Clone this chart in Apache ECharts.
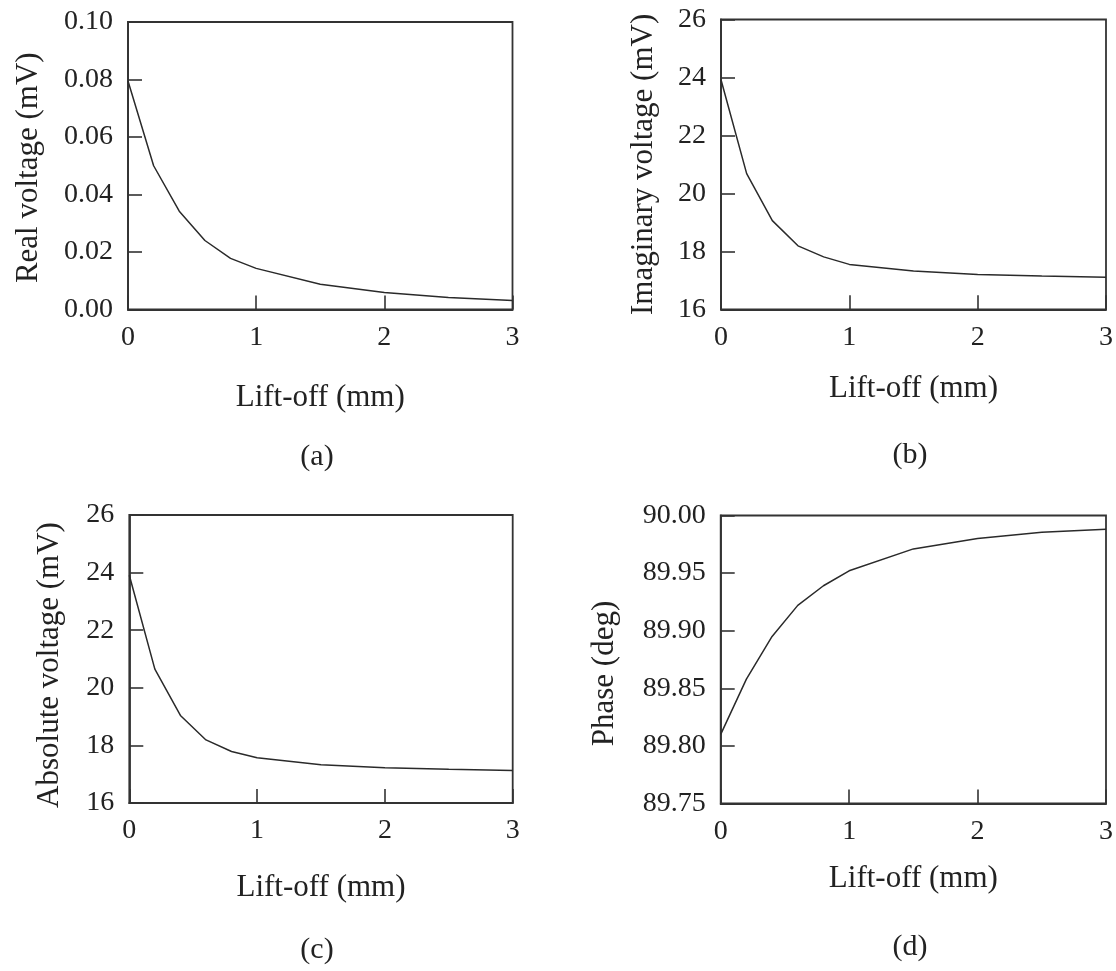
<!DOCTYPE html>
<html>
<head>
<meta charset="utf-8">
<script src="https://cdn.jsdelivr.net/npm/echarts@6/dist/echarts.min.js"></script>
<style>
html,body{margin:0;padding:0;background:#fff;}
#chart{width:1116px;height:971px;}
</style>
</head>
<body>
<div id="chart"></div>
<script>
// ---- data ----
const liftoff = [0, 0.2, 0.4, 0.6, 0.8, 1.0, 1.5, 2.0, 2.5, 3.0];
const realVoltage = [0.0795, 0.0500, 0.0342, 0.0240, 0.0178, 0.0143, 0.0088, 0.0059, 0.0042, 0.0031];
const imaginaryVoltage = [23.92, 20.68, 19.06, 18.19, 17.81, 17.55, 17.32, 17.20, 17.15, 17.11];
const absoluteVoltage = [23.91, 20.65, 19.04, 18.19, 17.79, 17.57, 17.33, 17.22, 17.17, 17.13];
const phaseDeg = [89.810, 89.858, 89.895, 89.922, 89.939, 89.952, 89.971, 89.980, 89.9855, 89.988];

const xTitle = 'Lift-off (mm)';
const yTitles = ['Real voltage (mV)', 'Imaginary voltage (mV)', 'Absolute voltage (mV)', 'Phase (deg)'];
const captions = ['(a)', '(b)', '(c)', '(d)'];
const yRanges = [
  {min: 0, max: 0.1, interval: 0.02, digits: 2},
  {min: 16, max: 26, interval: 2, digits: 0},
  {min: 16, max: 26, interval: 2, digits: 0},
  {min: 89.75, max: 90.0, interval: 0.05, digits: 2}
];
const seriesValues = [realVoltage, imaginaryVoltage, absoluteVoltage, phaseDeg];

// ---- layout / style ----
const FONT = '"Liberation Serif", "Times New Roman", "DejaVu Serif", serif';
const TXT = '#222';
const LINE = '#333';
const grids = [
  {left: 128, top: 22, width: 384.5, height: 287.5},
  {left: 721, top: 19.5, width: 385, height: 289.8},
  {left: 129.3, top: 515, width: 383.4, height: 288},
  {left: 720.7, top: 515.5, width: 385.3, height: 288}
];
const xNameGaps = [73, 64, 69, 60];
const yNameGaps = [84, 62, 64, 100];
const yNamePad = [[0, 4, 0, 0], [0, 0, 0, 0], [0, 12, 0, 0], [0, 28, 0, 0]];
const captionPos = [[317, 457], [910, 455], [317, 950], [910, 947]];

const chart = echarts.init(document.getElementById('chart'), null, {renderer: 'canvas'});

const option = {
  backgroundColor: '#fff',
  animation: false,
  grid: grids.map(g => Object.assign({show: true, borderColor: LINE, borderWidth: 1.8, backgroundColor: 'transparent', containLabel: false}, g)),
  xAxis: grids.map((g, i) => ({
    gridIndex: i, type: 'value', min: 0, max: 3, interval: 1,
    name: xTitle, nameLocation: 'middle', nameGap: xNameGaps[i],
    nameTextStyle: {fontFamily: FONT, fontSize: 31, color: TXT},
    axisLine: {show: true, lineStyle: {color: LINE, width: 1.8}},
    axisTick: {show: true, inside: true, length: 14, lineStyle: {color: LINE, width: 1.6}},
    axisLabel: {fontFamily: FONT, fontSize: 28, color: TXT, margin: 14},
    splitLine: {show: false}
  })),
  yAxis: grids.map((g, i) => ({
    gridIndex: i, type: 'value', min: yRanges[i].min, max: yRanges[i].max, interval: yRanges[i].interval,
    name: yTitles[i], nameLocation: 'middle', nameGap: yNameGaps[i],
    nameTextStyle: {fontFamily: FONT, fontSize: 31, color: TXT, padding: yNamePad[i]},
    axisLine: {show: true, lineStyle: {color: LINE, width: 1.8}},
    axisTick: {show: true, inside: true, length: 14, lineStyle: {color: LINE, width: 1.6}},
    axisLabel: {fontFamily: FONT, fontSize: 28, color: TXT, margin: 15,
      formatter: v => Number(v).toFixed(yRanges[i].digits)},
    splitLine: {show: false}
  })),
  series: seriesValues.map((vals, i) => ({
    type: 'line', xAxisIndex: i, yAxisIndex: i,
    data: liftoff.map((x, k) => [x, vals[k]]),
    showSymbol: false, smooth: false,
    lineStyle: {color: '#2a2a2a', width: 1.5},
    silent: true
  })),
  graphic: captions.map((c, i) => ({
    type: 'text', x: captionPos[i][0], y: captionPos[i][1],
    style: {text: c, fontFamily: FONT, fontSize: 30, fill: TXT, align: 'center', verticalAlign: 'middle'}
  }))
};
chart.setOption(option);
</script>
</body>
</html>
